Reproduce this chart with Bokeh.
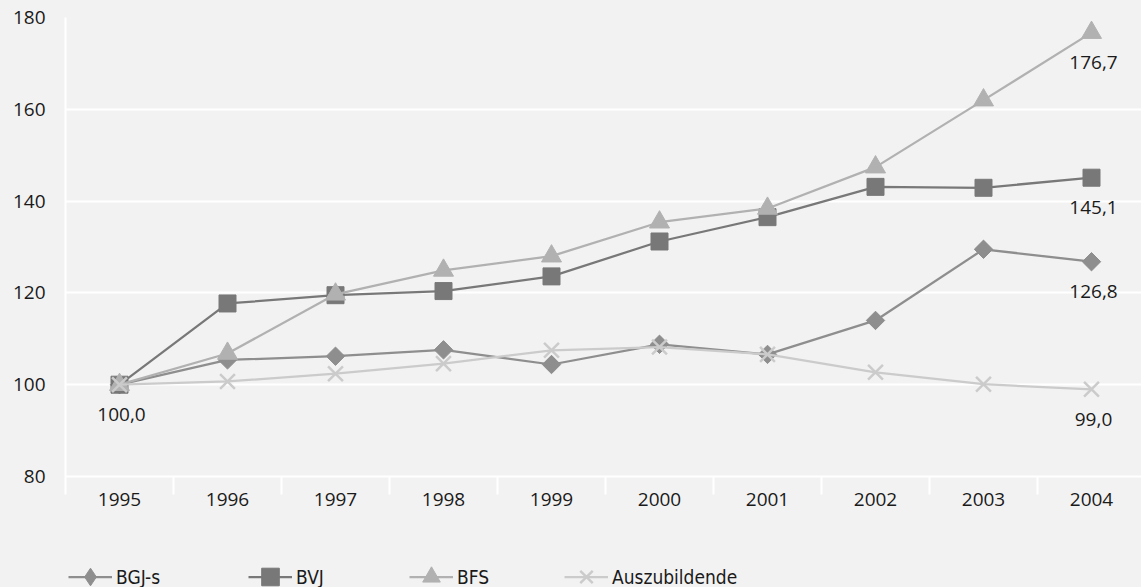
import math

from bokeh.core.properties import value
from bokeh.embed import file_html
from bokeh.layouts import column
from bokeh.models import (ColumnDataSource, FixedTicker, Legend, LegendItem,
                          Range1d)
from bokeh.plotting import figure
from bokeh.resources import INLINE

# Index values (1995 = 100)
years = [1995, 1996, 1997, 1998, 1999, 2000, 2001, 2002, 2003, 2004]
bgj_s = [100.0, 105.4, 106.2, 107.6, 104.4, 108.8, 106.6, 114.0, 129.5, 126.8]
bvj = [100.0, 117.7, 119.5, 120.4, 123.6, 131.2, 136.5, 143.1, 142.9, 145.1]
bfs = [100.0, 106.8, 119.7, 124.9, 128.0, 135.4, 138.4, 147.4, 162.0, 176.7]
azubi = [100.0, 100.7, 102.4, 104.6, 107.5, 108.2, 106.6, 102.7, 100.1, 99.0]
y_ticks = [80, 100, 120, 140, 160, 180]

BG = "#f2f2f2"
TXT = "#1a1a1a"
FONT = "Open Sans"
LEG_FONT = "'Liberation Sans Narrow', 'DejaVu Sans Condensed', sans-serif"

p = figure(width=1141, height=540, output_backend="svg", toolbar_location=None,
           x_range=Range1d(1994.5, 1994.5 + 1076 / 108), y_range=Range1d(80, 180),
           min_border_left=65, min_border_right=0, min_border_top=17,
           min_border_bottom=64)
p.background_fill_color = BG
p.border_fill_color = BG
p.outline_line_color = None

# y axis
p.yaxis.ticker = FixedTicker(ticks=y_ticks)
p.yaxis.axis_line_color = "white"
p.yaxis.axis_line_width = 2
p.yaxis.major_tick_line_color = None
p.yaxis.major_tick_out = 0
p.yaxis.major_tick_in = 0
p.yaxis.minor_tick_line_color = None
p.yaxis.minor_tick_out = 0
p.yaxis.major_label_standoff = 20
p.yaxis.major_label_text_font = FONT
p.yaxis.major_label_text_font_size = "19px"
p.yaxis.major_label_text_color = TXT

# x axis: year labels at centres, separators between categories
p.xaxis.ticker = FixedTicker(ticks=years,
                             minor_ticks=[y - 0.5 for y in years] + [years[-1] + 0.5])
p.xaxis.axis_line_color = "white"
p.xaxis.axis_line_width = 2
p.xaxis.major_tick_line_color = None
p.xaxis.major_tick_out = 0
p.xaxis.major_tick_in = 0
p.xaxis.minor_tick_line_color = "white"
p.xaxis.minor_tick_line_width = 2
p.xaxis.minor_tick_out = 18
p.xaxis.minor_tick_in = 0
p.xaxis.major_label_standoff = -2
p.xaxis.major_label_text_font = FONT
p.xaxis.major_label_text_font_size = "19px"
p.xaxis.major_label_text_color = TXT

p.xgrid.grid_line_color = None
p.ygrid.grid_line_color = "white"
p.ygrid.grid_line_width = 2

# name, values, colour, chart marker, legend key marker
series = [
    ("BGJ-s", bgj_s, "#8e8e8e", dict(marker="square", size=13, angle=math.pi / 4), "diamond"),
    ("BVJ", bvj, "#787878", dict(marker="square", size=17), "square"),
    ("BFS", bfs, "#b1b1b1", dict(marker="triangle", size=20), "triangle"),
    ("Auszubildende", azubi, "#cbcbcb", dict(marker="x", size=21, line_width=2.5), "x"),
]

# legend strip below the chart (its ranges keep the series themselves out of view)
leg_fig = figure(width=1141, height=47, output_backend="svg", toolbar_location=None,
                 x_axis_type=None, y_axis_type=None,
                 min_border_left=65, min_border_right=0, min_border_top=0,
                 min_border_bottom=0,
                 x_range=Range1d(0, 1), y_range=Range1d(0, 1))
leg_fig.background_fill_color = BG
leg_fig.border_fill_color = BG
leg_fig.outline_line_color = None
leg_fig.xgrid.visible = False
leg_fig.ygrid.visible = False

legend_x = [3, 183, 344, 499]
for (name, vals, color, mk, key_marker), lx in zip(series, legend_x):
    src = ColumnDataSource(dict(x=years, y=vals))
    p.line("x", "y", source=src, line_color=color, line_width=2.25)
    p.scatter("x", "y", source=src, fill_color=color, line_color=color, **mk)

    ln = leg_fig.line("x", "y", source=src, line_color=color, line_width=2.25)
    sc = leg_fig.scatter("x", "y", source=src, marker=key_marker,
                         fill_color=color, line_color=color,
                         line_width=mk.get("line_width", 1))
    leg = Legend(items=[LegendItem(label=name, renderers=[ln, sc])],
                 location=(lx, -13), orientation="horizontal",
                 glyph_width=44, glyph_height=47, label_height=20,
                 label_standoff=4, padding=0, margin=0, spacing=0,
                 border_line_alpha=0, background_fill_alpha=0,
                 label_text_font=LEG_FONT, label_text_font_size="19px",
                 label_text_color=TXT)
    leg_fig.add_layout(leg)

# value labels for start and end points
def fmt(v):
    return f"{v:.1f}".replace(".", ",")

lab_x = [years[0], years[-1], years[-1], years[-1], years[-1]]
lab_y = [bgj_s[0], bfs[-1], bvj[-1], bgj_s[-1], azubi[-1]]
lab_src = ColumnDataSource(dict(x=lab_x, y=lab_y, t=[fmt(v) for v in lab_y]))
p.text("x", "y", text="t", source=lab_src, y_offset=30, x_offset=2,
       text_align="center", text_baseline="middle",
       text_font=value(FONT), text_font_size="19px", text_color=TXT)

layout = column(p, leg_fig, spacing=0, styles={"background-color": BG})
open("out.html", "w").write(file_html(layout, INLINE))
